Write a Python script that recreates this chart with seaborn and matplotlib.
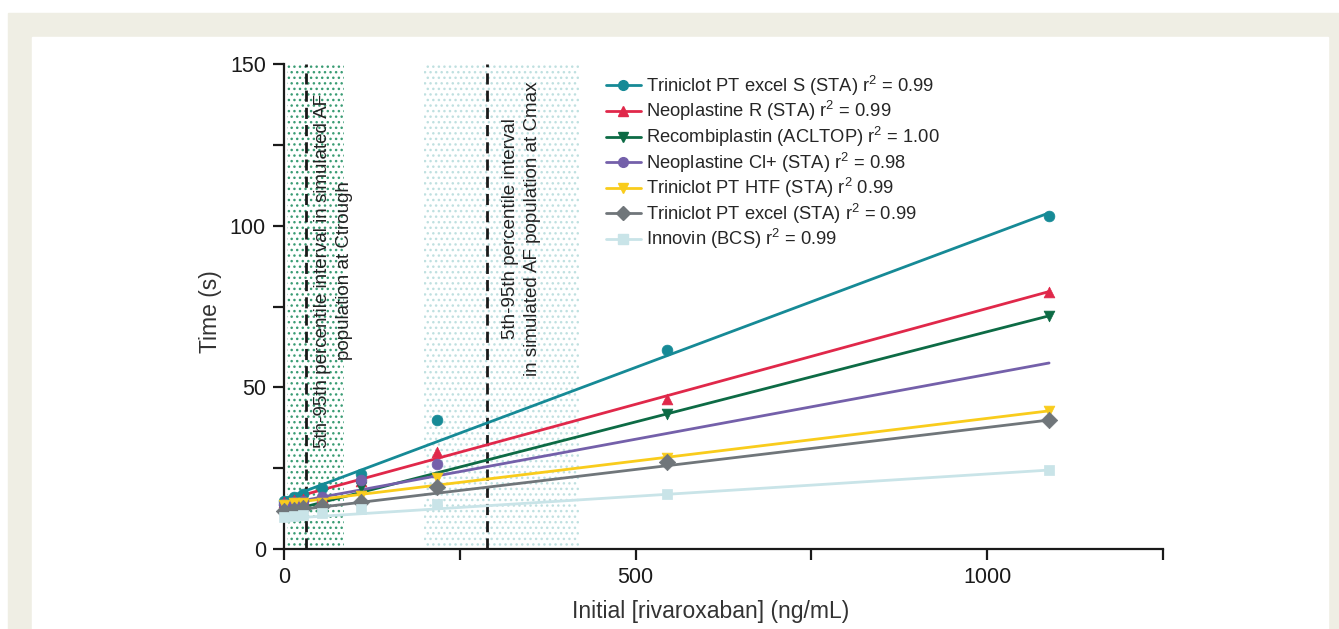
import numpy as np
import pandas as pd
import seaborn as sns
import matplotlib.pyplot as plt
from matplotlib.lines import Line2D
from matplotlib.patches import Rectangle

# rivaroxaban concentrations (ng/mL)
conc = [0, 13.6, 27.2, 54.4, 108.8, 217.6, 544, 1088]

names = [
    'Triniclot PT excel S (STA) r$^2$ = 0.99',
    'Neoplastine R (STA) r$^2$ = 0.99',
    'Recombiplastin (ACLTOP) r$^2$ = 1.00',
    'Neoplastine Cl+ (STA) r$^2$ = 0.98',
    'Triniclot PT HTF (STA) r$^2$ 0.99',
    'Triniclot PT excel (STA) r$^2$ = 0.99',
    'Innovin (BCS) r$^2$ = 0.99',
]

# clotting times (s), nan = no point shown
excel_s = [14.8, 16.2, 17.0, 18.8, 23.2, 39.9, 61.5, 103.0]
neo_r = [14.5, 15.3, 15.5, 16.2, 21.0, 30.1, 46.5, 79.6]
recombi = [12.0, 12.8, 13.4, 14.5, 19.3, np.nan, 41.8, 72.1]
neo_cl = [14.0, 14.5, 15.0, 16.0, 21.3, 26.3, np.nan, np.nan]
htf = [13.5, 14.1, 14.2, 14.3, 16.4, 21.9, 28.0, 42.6]
excel = [11.8, 12.1, 12.6, 13.3, 14.4, 19.1, 26.8, 40.0]
innovin = [10.0, 10.2, 10.4, 11.2, 12.3, 13.9, 17.0, 24.3]

# regression lines
intercepts = [15.5, 15.1, 11.4, 13.9, 14.0, 11.6, 9.4]
slopes = [0.0813, 0.0593, 0.0558, 0.0401, 0.0264, 0.0260, 0.0138]
fit_end = 1088

# shaded 5th-95th percentile bands and dashed medians
ctrough_band = (4, 86)
cmax_band = (199, 420)
ctrough_median = 31
cmax_median = 288

series = [excel_s, neo_r, recombi, neo_cl, htf, excel, innovin]
colors = ['#168a96', '#e0284a', '#0d6b45', '#7460aa', '#f9cc1c', '#70767a', '#c9e4e8']
markers = ['o', '^', 'v', 'o', 'v', 'D', 's']

sns.set_style('ticks')
plt.rcParams['font.family'] = ['Liberation Sans', 'DejaVu Sans']
plt.rcParams['mathtext.fontset'] = 'custom'
plt.rcParams['mathtext.rm'] = 'Liberation Sans'
plt.rcParams['mathtext.it'] = 'Liberation Sans'
plt.rcParams['hatch.linewidth'] = 1.0

fig = plt.figure(figsize=(13.39, 6.29), dpi=100)
fig.patches.append(Rectangle((8 / 1339, 0), 1 - 8 / 1339, 1 - 13 / 629,
                             transform=fig.transFigure, color='#efeee4', zorder=-10))
fig.patches.append(Rectangle((32 / 1339, 0), (1328 - 32) / 1339, 1 - 37 / 629,
                             transform=fig.transFigure, color='white', zorder=-9))
ax = fig.add_axes([284 / 1339, 80 / 629, (1163 - 284) / 1339, (549 - 64) / 629])
ax.set_facecolor('none')

# bands
ax.axvspan(*ctrough_band, ymin=0, ymax=1, facecolor='white', edgecolor='#3a9c74',
           hatch='...', linewidth=0, zorder=0)
ax.axvspan(*cmax_band, ymin=0, ymax=1, facecolor='white', edgecolor='#bfe0e0',
           hatch='...', linewidth=0, zorder=0)
ax.axvline(ctrough_median, color='#1a1a1a', ls=(0, (4, 2.2)), lw=2, zorder=1)
ax.axvline(cmax_median, color='#1a1a1a', ls=(0, (4, 2.2)), lw=2, zorder=1)

ax.text(70, 86, '5th-95th percentile interval in simulated AF\npopulation at Ctrough',
        rotation=90, ha='center', va='center', multialignment='center',
        fontsize=13.5, color='#222222', zorder=2, linespacing=1.4)
ax.text(338, 99, '5th-95th percentile interval\nin simulated AF population at Cmax',
        rotation=90, ha='center', va='center', multialignment='center',
        fontsize=13.5, color='#222222', zorder=2, linespacing=1.35)

handles = []
for vals, b, m, c, mk, name in zip(series, intercepts, slopes, colors, markers, names):
    fit = pd.DataFrame({'x': [0, fit_end], 'y': [b, b + m * fit_end]})
    sns.lineplot(data=fit, x='x', y='y', color=c, lw=2, ax=ax, zorder=3)
    pts = pd.DataFrame({'x': conc, 'y': vals}).dropna()
    size = 70 if mk == 'D' else 60
    sns.scatterplot(data=pts, x='x', y='y', color=c, marker=mk, s=size,
                    edgecolor=c, linewidth=0.5, ax=ax, zorder=4, clip_on=False)
    handles.append(Line2D([0], [0], color=c, lw=2, marker=mk, markersize=7,
                          markeredgecolor=c, label=name))

ax.legend(handles=handles, loc='upper left', bbox_to_anchor=(0.358, 0.995),
          frameon=False, fontsize=13.2, handlelength=1.9, handletextpad=0.3,
          labelspacing=0.08, borderaxespad=0)

ax.set_xlim(0, 1250)
ax.set_ylim(0, 150)
ax.set_xticks([0, 250, 500, 750, 1000, 1250])
ax.set_xticklabels(['0', '', '500', '', '1000', ''])
ax.set_yticks([0, 25, 50, 75, 100, 125, 150])
ax.set_yticklabels(['0', '', '50', '', '100', '', '150'])
ax.tick_params(axis='both', direction='out', length=8, width=1.6, labelsize=15.5,
               colors='#1a1a1a', pad=5)
for side in ['left', 'bottom']:
    ax.spines[side].set_linewidth(1.6)
    ax.spines[side].set_color('#1a1a1a')
sns.despine(ax=ax)

ax.set_xlabel('Initial [rivaroxaban] (ng/mL)', fontsize=16.5, color='#333333')
ax.set_ylabel('Time (s)', fontsize=16.5, color='#333333')
ax.xaxis.set_label_coords(0.485, -0.105)
ax.yaxis.set_label_coords(-0.07, 0.49)

fig.savefig('out.png', dpi=100)
